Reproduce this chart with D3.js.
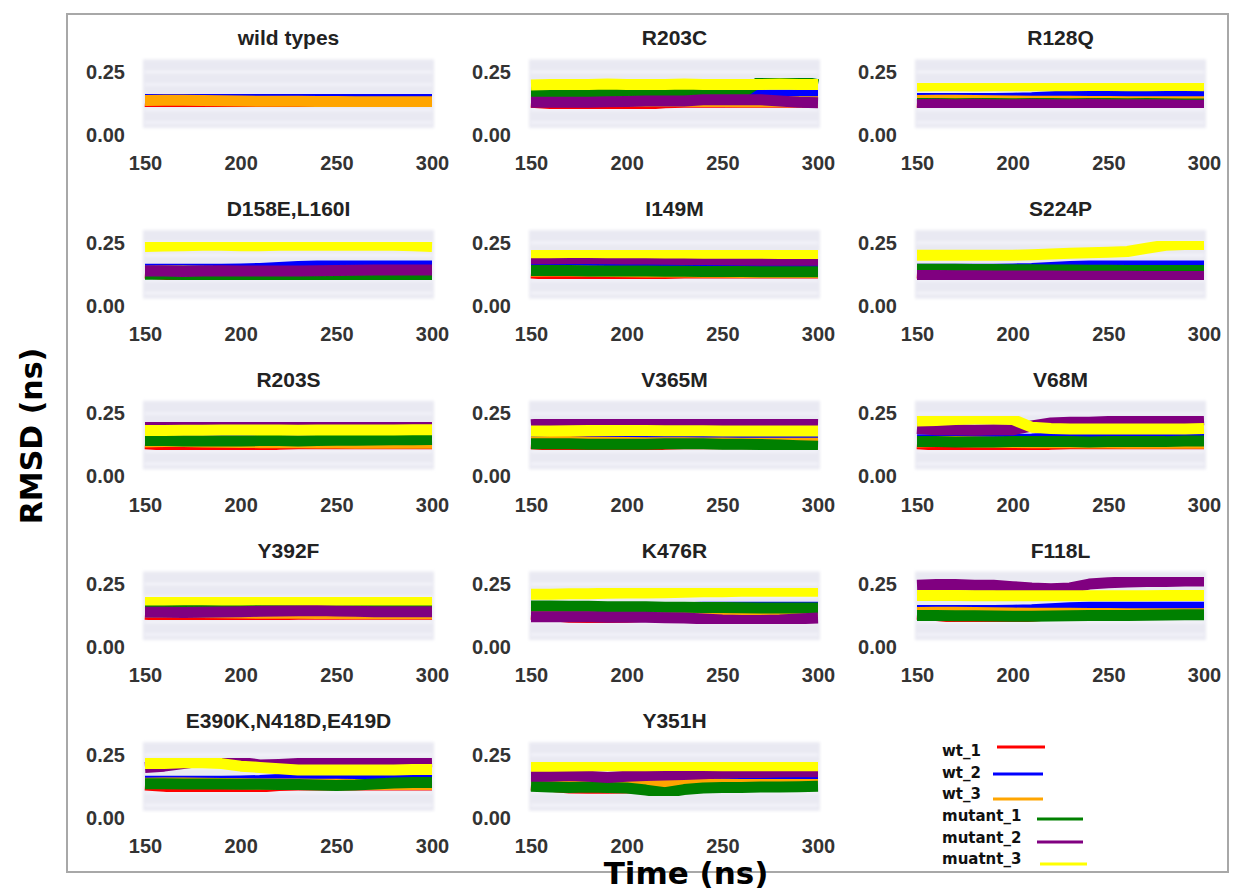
<!DOCTYPE html>
<html>
<head>
<meta charset="utf-8">
<script src="https://cdn.jsdelivr.net/npm/d3@7"></script>
<style>
  html, body { margin: 0; padding: 0; background: #fff; }
  svg { display: block; }
  .tick text { font-family: "Liberation Sans", Arial, sans-serif; font-weight: bold; fill: #333; }
</style>
</head>
<body>
<svg id="chart" width="1233" height="895"></svg>
<script>
// Sampling times (ns) for every trajectory
const times = [150, 160, 170, 180, 190, 200, 210, 220, 230, 240, 250, 260, 270, 280, 290, 300];

// Panel titles, in reading order
const panelTitles = ["wild types", "R203C", "R128Q",
                     "D158E,L160I", "I149M", "S224P",
                     "R203S", "V365M", "V68M",
                     "Y392F", "K476R", "F118L",
                     "E390K,N418D,E419D", "Y351H"];

// Wild-type replicas (shown in every panel)
const wt1 = [0.13, 0.125, 0.118, 0.117, 0.117, 0.118, 0.122, 0.128, 0.13, 0.13, 0.13, 0.13, 0.13, 0.13, 0.13, 0.13];
const wt2 = [0.145, 0.145, 0.145, 0.145, 0.145, 0.146, 0.148, 0.152, 0.156, 0.158, 0.158, 0.158, 0.158, 0.158, 0.158, 0.158];
const wt3 = [0.137, 0.138, 0.138, 0.137, 0.136, 0.135, 0.134, 0.134, 0.134, 0.133, 0.133, 0.132, 0.132, 0.132, 0.132, 0.132];

// Mutant replica 1, one row per panel (null: no mutant in that panel)
const mutant1 = [
  null,
  [0.17, 0.17, 0.17, 0.17, 0.168, 0.168, 0.168, 0.168, 0.166, 0.165, 0.165, 0.165, 0.214, 0.216, 0.214, 0.2],
  [0.125, 0.125, 0.124, 0.125, 0.125, 0.124, 0.125, 0.125, 0.124, 0.125, 0.125, 0.124, 0.125, 0.124, 0.123, 0.123],
  [0.125, 0.125, 0.124, 0.125, 0.124, 0.124, 0.123, 0.123, 0.122, 0.122, 0.12, 0.12, 0.118, 0.118, 0.118, 0.118],
  [0.14, 0.14, 0.14, 0.138, 0.138, 0.138, 0.138, 0.137, 0.137, 0.136, 0.136, 0.136, 0.135, 0.135, 0.135, 0.135],
  [0.145, 0.145, 0.145, 0.144, 0.144, 0.143, 0.143, 0.142, 0.142, 0.141, 0.141, 0.14, 0.14, 0.14, 0.14, 0.14],
  [0.142, 0.142, 0.14, 0.14, 0.14, 0.14, 0.142, 0.142, 0.14, 0.142, 0.143, 0.143, 0.144, 0.145, 0.145, 0.146],
  [0.13, 0.13, 0.13, 0.128, 0.128, 0.128, 0.128, 0.13, 0.13, 0.13, 0.128, 0.128, 0.127, 0.125, 0.122, 0.12],
  [0.138, 0.138, 0.137, 0.137, 0.137, 0.138, 0.138, 0.138, 0.138, 0.137, 0.138, 0.138, 0.138, 0.138, 0.14, 0.14],
  [0.162, 0.162, 0.162, 0.162, 0.163, 0.163, 0.164, 0.164, 0.165, 0.165, 0.163, 0.162, 0.162, 0.162, 0.162, 0.162],
  [0.163, 0.163, 0.162, 0.162, 0.16, 0.16, 0.16, 0.158, 0.158, 0.157, 0.157, 0.156, 0.155, 0.155, 0.155, 0.155],
  [0.125, 0.125, 0.124, 0.124, 0.123, 0.122, 0.122, 0.123, 0.124, 0.125, 0.125, 0.125, 0.126, 0.127, 0.128, 0.128],
  [0.135, 0.135, 0.134, 0.134, 0.134, 0.133, 0.133, 0.132, 0.132, 0.13, 0.128, 0.13, 0.134, 0.138, 0.14, 0.14],
  [0.125, 0.122, 0.12, 0.122, 0.12, 0.118, 0.11, 0.1, 0.112, 0.118, 0.12, 0.12, 0.122, 0.122, 0.123, 0.125]
];

// Mutant replica 2
const mutant2 = [
  null,
  [0.13, 0.13, 0.13, 0.13, 0.132, 0.133, 0.135, 0.135, 0.135, 0.14, 0.14, 0.14, 0.14, 0.135, 0.13, 0.128],
  [0.12, 0.122, 0.12, 0.122, 0.12, 0.12, 0.122, 0.12, 0.12, 0.122, 0.12, 0.12, 0.12, 0.12, 0.118, 0.118],
  [0.138, 0.138, 0.136, 0.138, 0.139, 0.138, 0.138, 0.138, 0.138, 0.139, 0.14, 0.141, 0.142, 0.142, 0.142, 0.142],
  [0.186, 0.186, 0.187, 0.187, 0.186, 0.185, 0.185, 0.184, 0.183, 0.183, 0.182, 0.181, 0.18, 0.18, 0.18, 0.18],
  [0.12, 0.12, 0.119, 0.119, 0.118, 0.118, 0.118, 0.118, 0.117, 0.117, 0.117, 0.117, 0.116, 0.116, 0.116, 0.116],
  [0.204, 0.204, 0.206, 0.206, 0.204, 0.203, 0.203, 0.204, 0.204, 0.205, 0.205, 0.205, 0.206, 0.206, 0.204, 0.204],
  [0.205, 0.21, 0.212, 0.215, 0.215, 0.213, 0.212, 0.21, 0.21, 0.208, 0.21, 0.21, 0.212, 0.21, 0.212, 0.21],
  [0.19, 0.185, 0.185, 0.183, 0.185, 0.185, 0.2, 0.212, 0.215, 0.215, 0.218, 0.22, 0.218, 0.22, 0.222, 0.225],
  [0.138, 0.138, 0.137, 0.138, 0.139, 0.14, 0.142, 0.143, 0.144, 0.145, 0.143, 0.142, 0.14, 0.14, 0.14, 0.14],
  [0.12, 0.12, 0.12, 0.12, 0.118, 0.118, 0.118, 0.116, 0.115, 0.112, 0.108, 0.106, 0.106, 0.108, 0.112, 0.115],
  [0.245, 0.248, 0.248, 0.245, 0.245, 0.24, 0.235, 0.232, 0.235, 0.25, 0.255, 0.258, 0.26, 0.26, 0.262, 0.262],
  [0.2, 0.205, 0.215, 0.225, 0.225, 0.22, 0.21, 0.212, 0.215, 0.218, 0.22, 0.22, 0.218, 0.218, 0.22, 0.222],
  [0.165, 0.165, 0.168, 0.165, 0.16, 0.165, 0.168, 0.17, 0.172, 0.175, 0.178, 0.18, 0.18, 0.182, 0.183, 0.183]
];

// Mutant replica 3
const mutant3 = [
  null,
  [0.198, 0.2, 0.2, 0.2, 0.202, 0.2, 0.2, 0.2, 0.202, 0.2, 0.2, 0.2, 0.2, 0.202, 0.2, 0.2],
  [0.194, 0.195, 0.195, 0.194, 0.195, 0.195, 0.196, 0.195, 0.195, 0.196, 0.196, 0.195, 0.195, 0.196, 0.196, 0.195],
  [0.235, 0.237, 0.238, 0.24, 0.24, 0.238, 0.238, 0.24, 0.24, 0.24, 0.24, 0.24, 0.24, 0.24, 0.238, 0.235],
  [0.21, 0.21, 0.211, 0.211, 0.21, 0.21, 0.21, 0.209, 0.209, 0.208, 0.208, 0.208, 0.208, 0.207, 0.207, 0.207],
  [0.2, 0.2, 0.2, 0.2, 0.2, 0.2, 0.202, 0.205, 0.208, 0.21, 0.212, 0.215, 0.228, 0.24, 0.243, 0.243],
  [0.182, 0.182, 0.183, 0.183, 0.184, 0.184, 0.184, 0.184, 0.183, 0.184, 0.184, 0.184, 0.184, 0.184, 0.185, 0.185],
  [0.18, 0.18, 0.181, 0.182, 0.182, 0.182, 0.182, 0.181, 0.181, 0.181, 0.18, 0.18, 0.18, 0.18, 0.18, 0.18],
  [0.22, 0.222, 0.226, 0.228, 0.228, 0.226, 0.195, 0.19, 0.188, 0.188, 0.188, 0.188, 0.188, 0.188, 0.188, 0.19],
  [0.187, 0.187, 0.188, 0.188, 0.187, 0.187, 0.188, 0.188, 0.188, 0.188, 0.187, 0.187, 0.187, 0.187, 0.187, 0.187],
  [0.21, 0.21, 0.212, 0.212, 0.214, 0.215, 0.215, 0.216, 0.218, 0.22, 0.22, 0.222, 0.222, 0.222, 0.222, 0.222],
  [0.205, 0.205, 0.205, 0.204, 0.204, 0.204, 0.204, 0.204, 0.204, 0.204, 0.204, 0.204, 0.204, 0.205, 0.205, 0.205],
  [0.215, 0.215, 0.218, 0.218, 0.215, 0.205, 0.2, 0.195, 0.19, 0.19, 0.19, 0.19, 0.19, 0.19, 0.192, 0.192],
  [0.205, 0.205, 0.206, 0.207, 0.207, 0.207, 0.207, 0.208, 0.208, 0.208, 0.207, 0.207, 0.207, 0.207, 0.207, 0.207]
];

// Axis ticks
const xTicks = [150, 200, 250, 300];
const yTicks = [0.0, 0.25];

// Legend entries and colours
const seriesNames = ["wt_1", "wt_2", "wt_3", "mutant_1", "mutant_2", "muatnt_3"];
const seriesColors = ["red", "blue", "orange", "green", "purple", "yellow"];

// ---- layout ----
const svg = d3.select("#chart");
const colLeft = [145, 531, 917];
const panelW = 287;
const rowTop = 59.4;      // pixel of y = 0.3 in the first row
const rowStep = 170.7;
const panelH = 75.6;      // 0.3 -> 0.0

const x = d3.scaleLinear().domain([150, 300]).range([0, panelW]);
const y = d3.scaleLinear().domain([0, 0.3]).range([panelH, 0]);

const line = d3.line()
  .x((d, i) => x(times[i]))
  .y(d => y(d))
  .curve(d3.curveLinear);

const defs = svg.append("defs");
defs.append("filter").attr("id", "soft")
  .attr("x", "-5%").attr("y", "-20%").attr("width", "110%").attr("height", "140%")
  .append("feGaussianBlur").attr("stdDeviation", 1.6);
defs.append("filter").attr("id", "edge")
  .append("feGaussianBlur").attr("stdDeviation", 0.5);

// outer frame
svg.append("rect")
  .attr("x", 67).attr("y", 14).attr("width", 1161).attr("height", 858)
  .attr("fill", "none").attr("stroke", "#a8a8a8").attr("stroke-width", 2);

panelTitles.forEach((title, p) => {
  const r = Math.floor(p / 3), c = p % 3;
  const g = svg.append("g")
    .attr("transform", `translate(${colLeft[c]},${rowTop + r * rowStep})`);

  // shaded plotting area
  const bg = g.append("g").attr("filter", "url(#soft)");
  bg.append("rect")
    .attr("x", x(150) - 2).attr("y", y(0.3))
    .attr("width", x(300) - x(150) + 4).attr("height", y(0.028) - y(0.3))
    .attr("fill", "#e9e9f2");
  bg.selectAll("line.grid")
    .data([0.05, 0.1, 0.15, 0.2, 0.25])
    .join("line")
    .attr("x1", x(150)).attr("x2", x(300))
    .attr("y1", d => y(d)).attr("y2", d => y(d))
    .attr("stroke", "#fbfbff").attr("stroke-width", 1.5);

  // trajectories: wild-type replicas first, mutants on top
  const series = [wt1, wt2, wt3];
  if (mutant1[p]) series.push(mutant1[p], mutant2[p], mutant3[p]);
  const lines = g.append("g").attr("filter", "url(#edge)");
  series.forEach((vals, k) => {
    lines.append("path")
      .datum(vals)
      .attr("d", line)
      .attr("fill", "none")
      .attr("stroke", seriesColors[k])
      .attr("stroke-width", 11)
      .attr("stroke-linejoin", "round");
  });

  // axes
  const ya = g.append("g")
    .call(d3.axisLeft(y).tickValues(yTicks).tickFormat(d3.format(".2f")).tickSize(0).tickPadding(20));
  const xa = g.append("g")
    .attr("transform", `translate(0,${y(0)})`)
    .call(d3.axisBottom(x).tickValues(xTicks).tickFormat(d3.format("d")).tickSize(0).tickPadding(21));
  [ya, xa].forEach(a => {
    a.select(".domain").remove();
    a.selectAll("text").style("font-size", "20px");
  });

  // title
  g.append("text")
    .attr("x", panelW / 2).attr("y", y(0.3) - 14)
    .attr("text-anchor", "middle")
    .style("font-family", "'Liberation Sans', Arial, sans-serif")
    .style("font-weight", "bold").style("font-size", "21px").style("fill", "#222")
    .text(title);
});

// legend
const legend = svg.append("g").attr("transform", "translate(942,0)");
const legendRows = [750, 772, 793, 815, 837, 858];
const legendLine = [[55, 103, 747], [51, 101, 774], [51, 101, 799], [95, 141, 819], [95, 141, 842], [98, 145, 864]];
seriesNames.forEach((name, k) => {
  legend.append("text")
    .attr("x", 0).attr("y", legendRows[k] + 6)
    .style("font-family", "'DejaVu Sans', sans-serif")
    .style("font-weight", "bold").style("font-size", "15px").style("fill", "#111")
    .text(name);
  legend.append("line")
    .attr("x1", legendLine[k][0]).attr("x2", legendLine[k][1])
    .attr("y1", legendLine[k][2]).attr("y2", legendLine[k][2])
    .attr("stroke", seriesColors[k]).attr("stroke-width", 3);
});

// shared axis titles
svg.append("text")
  .attr("transform", "translate(42,436) rotate(-90)")
  .attr("text-anchor", "middle")
  .style("font-family", "'DejaVu Sans', sans-serif")
  .style("font-weight", "bold").style("font-size", "30px").style("fill", "#000")
  .text("RMSD (ns)");
svg.append("text")
  .attr("x", 686).attr("y", 884)
  .attr("text-anchor", "middle")
  .style("font-family", "'DejaVu Sans', sans-serif")
  .style("font-weight", "bold").style("font-size", "31px").style("fill", "#000")
  .text("Time (ns)");
</script>
</body>
</html>
